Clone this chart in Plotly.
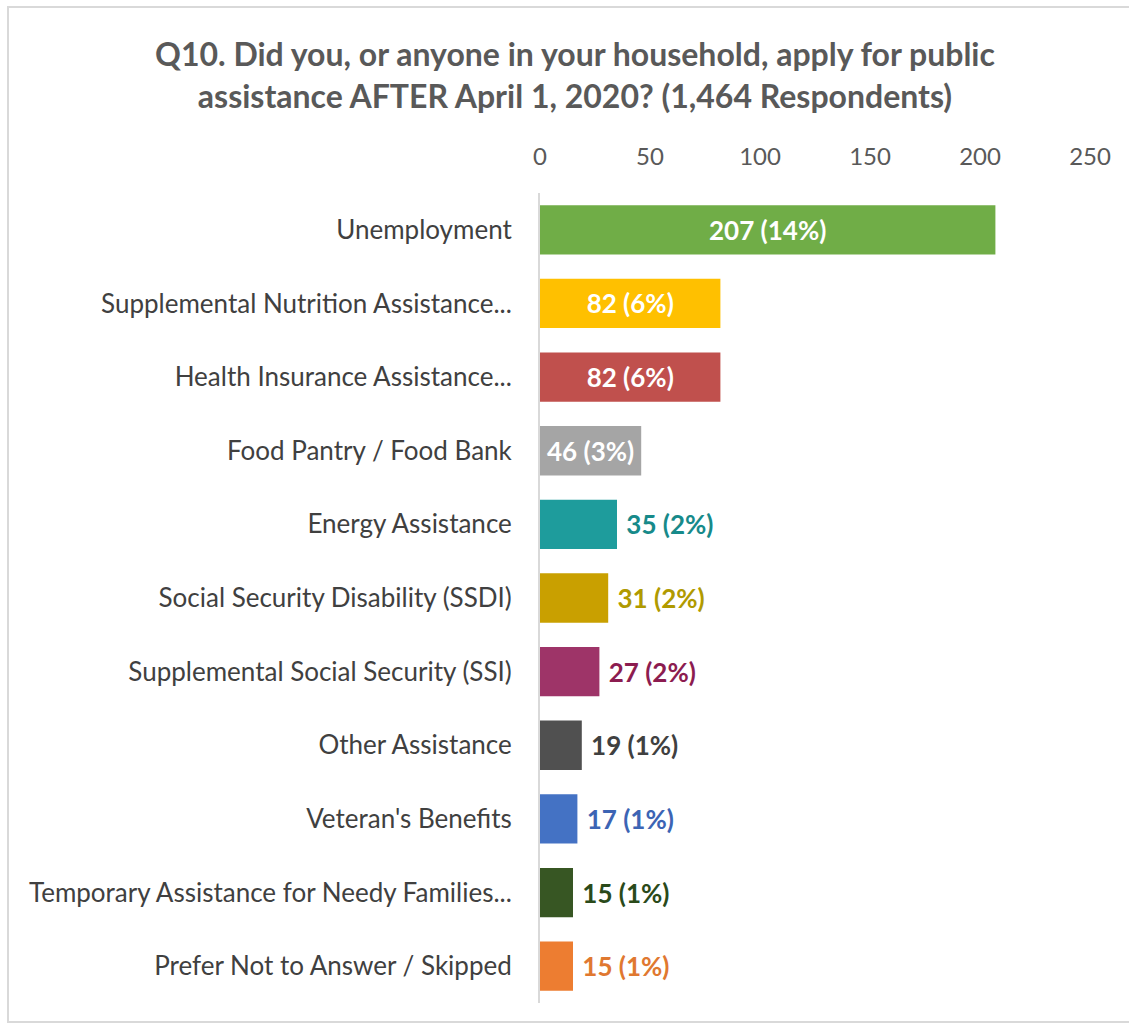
import plotly.graph_objects as go

# Survey responses: public assistance applied for after April 1, 2020
categories = [
    "Unemployment",
    "Supplemental Nutrition Assistance...",
    "Health Insurance Assistance...",
    "Food Pantry / Food Bank",
    "Energy Assistance",
    "Social Security Disability (SSDI)",
    "Supplemental Social Security (SSI)",
    "Other Assistance",
    "Veteran's Benefits",
    "Temporary Assistance for Needy Families...",
    "Prefer Not to Answer / Skipped",
]
counts = [207, 82, 82, 46, 35, 31, 27, 19, 17, 15, 15]
total_respondents = 1464

bar_colors = ["#70AD47", "#FFC000", "#C0504D", "#A5A5A5", "#1E9C9C", "#C9A000",
              "#9E3468", "#505050", "#4472C4", "#375623", "#ED7D31"]
label_colors = ["#FFFFFF", "#FFFFFF", "#FFFFFF", "#FFFFFF", "#178A8A", "#B09A00",
                "#8C1C50", "#404040", "#3C64B4", "#2A4A1A", "#E07830"]
label_positions = ["inside"] * 4 + ["outside"] * 7

# inside labels are centred in the bar; outside ones get a small lead-in gap
labels = [
    ("" if pos == "inside" else "\u00a0") + f"{v} ({round(v / total_respondents * 100)}%)"
    for v, pos in zip(counts, label_positions)
]

W, H = 1129, 1027
L, R, T, B = 540, 39, 193, 24

fig = go.Figure(go.Bar(
    x=counts,
    y=categories,
    orientation="h",
    marker=dict(color=bar_colors, line=dict(width=0)),
    text=labels,
    textposition=label_positions,
    insidetextanchor="middle",
    textfont=dict(family="Lato", size=26, color=label_colors, weight="bold"),
    cliponaxis=False,
    hoverinfo="skip",
))

pw, ph = W - L - R, H - T - B

fig.update_layout(
    width=W, height=H,
    margin=dict(l=L, r=R, t=T, b=B, pad=0),
    paper_bgcolor="white", plot_bgcolor="white",
    bargap=0.33,
    showlegend=False,
    uniformtext=dict(minsize=26, mode="show"),
    title=dict(
        text="Q10. Did you, or anyone in your household, apply for public<br>"
             "assistance AFTER April 1, 2020? (1,464 Respondents)",
        x=575 / W, xanchor="center", y=1 - 66 / H, yanchor="middle",
        font=dict(family="Lato", size=32, color="#595959", weight="bold"),
    ),
    xaxis=dict(
        side="top", range=[0, 250], tickvals=[0, 50, 100, 150, 200, 250],
        showgrid=False, zeroline=False, showline=False, ticks="",
        tickfont=dict(family="Lato", size=24, color="#595959"),
        ticklabelstandoff=22,
    ),
    yaxis=dict(
        autorange="reversed", showgrid=False, zeroline=False,
        showline=True, linecolor="#D9D9D9", linewidth=2, ticks="",
        tickfont=dict(family="Lato", size=26, color="#404040"),
        ticklabelstandoff=21,
    ),
    shapes=[dict(
        type="rect", xref="paper", yref="paper",
        x0=(8 - L) / pw, x1=(1140 - L) / pw,
        y0=(H - B - 1022) / ph, y1=(H - B - 7) / ph,
        line=dict(color="#D9D9D9", width=2), fillcolor="rgba(0,0,0,0)",
        layer="below",
    )],
)

fig.write_html("out.html")
